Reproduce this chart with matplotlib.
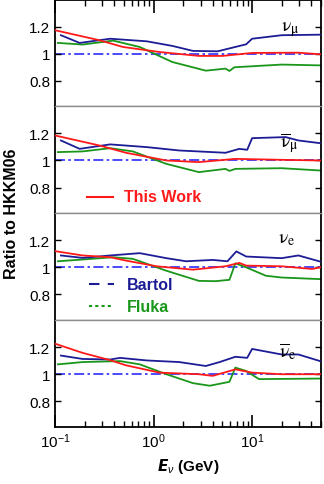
import numpy as np
import matplotlib
matplotlib.use("Agg")
import matplotlib.pyplot as plt
from matplotlib.ticker import LogLocator, NullFormatter, FixedLocator

plt.rcParams["font.family"] = ["Liberation Sans", "DejaVu Sans"]
plt.rcParams["mathtext.fontset"] = "custom"
plt.rcParams["mathtext.rm"] = "Liberation Sans"
plt.rcParams["mathtext.it"] = "Liberation Sans:italic"
plt.rcParams["mathtext.bf"] = "Liberation Sans:bold"

# ratio to HKKM06, x given as log10(E/GeV)
# panel 1: nu_mu
mu_bartol_x = [-0.94, -0.75, -0.44, -0.07, 0.19, 0.40, 0.65, 0.94, 1.00, 1.30, 1.69]
mu_bartol_y = [1.136, 1.079, 1.110, 1.091, 1.057, 1.020, 1.017, 1.069, 1.110, 1.136, 1.140]
mu_this_x = [-1.0, -0.55, -0.31, 0.06, 0.46, 0.70, 1.00, 1.47, 1.69]
mu_this_y = [1.173, 1.099, 1.049, 1.012, 0.983, 0.983, 1.005, 1.007, 0.995]
mu_fluka_x = [-0.97, -0.72, -0.41, -0.14, 0.19, 0.53, 0.73, 0.77, 0.82, 1.30, 1.69]
mu_fluka_y = [1.079, 1.067, 1.096, 1.049, 0.938, 0.874, 0.889, 0.872, 0.899, 0.919, 0.913]

# panel 2: anti nu_mu
mub_bartol_x = [-0.94, -0.75, -0.44, -0.07, 0.26, 0.73, 0.87, 0.95, 1.00, 1.34, 1.47, 1.69]
mub_bartol_y = [1.148, 1.086, 1.119, 1.099, 1.074, 1.057, 1.086, 1.079, 1.165, 1.173, 1.148, 1.128]
mub_this_x = [-1.0, -0.55, -0.28, 0.13, 0.46, 0.83, 1.30, 1.69]
mub_this_y = [1.185, 1.111, 1.057, 1.000, 0.988, 1.012, 1.005, 1.000]
mub_fluka_x = [-0.97, -0.72, -0.44, -0.21, 0.13, 0.46, 0.73, 0.77, 0.83, 1.30, 1.69]
mub_fluka_y = [1.062, 1.067, 1.091, 1.067, 0.975, 0.914, 0.938, 0.923, 0.938, 0.943, 0.926]

# panel 3: nu_e
e_bartol_x = [-0.94, -0.72, -0.44, -0.14, 0.13, 0.33, 0.60, 0.75, 0.84, 0.94, 1.30, 1.47, 1.69]
e_bartol_y = [1.088, 1.070, 1.088, 1.105, 1.068, 1.045, 1.055, 1.045, 1.118, 1.080, 1.068, 1.088, 1.043]
e_this_x = [-1.0, -0.72, -0.44, -0.28, 0.03, 0.40, 0.73, 0.87, 0.94, 1.30, 1.61, 1.69]
e_this_y = [1.120, 1.088, 1.075, 1.050, 1.008, 0.983, 1.008, 1.033, 1.013, 1.008, 0.988, 1.000]
e_fluka_x = [-0.97, -0.72, -0.41, -0.21, 0.13, 0.46, 0.63, 0.77, 0.83, 0.94, 1.14, 1.30, 1.69]
e_fluka_y = [1.045, 1.058, 1.075, 1.063, 0.975, 0.900, 0.898, 0.908, 1.030, 1.000, 0.938, 0.925, 0.913]

# panel 4: anti nu_e
eb_bartol_x = [-0.94, -0.72, -0.44, -0.34, -0.07, 0.26, 0.53, 0.67, 0.83, 0.95, 1.00, 1.30, 1.47, 1.69]
eb_bartol_y = [1.138, 1.113, 1.109, 1.121, 1.102, 1.090, 1.061, 1.090, 1.129, 1.121, 1.187, 1.146, 1.146, 1.097]
eb_this_x = [-1.0, -0.72, -0.44, -0.28, 0.06, 0.46, 0.60, 0.83, 1.00, 1.30, 1.69]
eb_this_y = [1.226, 1.158, 1.104, 1.066, 1.012, 1.000, 0.988, 1.036, 1.012, 1.000, 1.000]
eb_fluka_x = [-0.97, -0.72, -0.34, -0.14, 0.13, 0.40, 0.57, 0.77, 0.83, 0.94, 1.07, 1.69]
eb_fluka_y = [1.073, 1.090, 1.097, 1.073, 1.000, 0.934, 0.915, 0.944, 1.049, 1.024, 0.964, 0.968]

panels = [
    (r"$\mathrm{\nu}_{\mathrm{\mu}}$", mu_bartol_x, mu_bartol_y, mu_this_x, mu_this_y, mu_fluka_x, mu_fluka_y),
    (r"$\overline{\mathrm{\nu}}_{\mathrm{\mu}}$", mub_bartol_x, mub_bartol_y, mub_this_x, mub_this_y, mub_fluka_x, mub_fluka_y),
    (r"$\mathrm{\nu}_{\mathrm{e}}$", e_bartol_x, e_bartol_y, e_this_x, e_this_y, e_fluka_x, e_fluka_y),
    (r"$\overline{\mathrm{\nu}}_{\mathrm{e}}$", eb_bartol_x, eb_bartol_y, eb_this_x, eb_this_y, eb_fluka_x, eb_fluka_y),
]
label_pos = [(0.885, 0.73), (0.88, 0.665), (0.87, 0.76), (0.875, 0.71)]

C_BARTOL = "#1c1c96"
C_THIS = "#ff1a1a"
C_FLUKA = "#1a961a"
C_REF = "#2b2bff"

fig = plt.figure(figsize=(3.24, 4.85), dpi=100)
left, right = 55 / 324, 321 / 324
bot, top = 57 / 485, 484.5 / 485
h = (top - bot) / 4

axes = []
for i, (lab, bx, by, tx, ty, fx, fy) in enumerate(panels):
    ax = fig.add_axes([left, top - (i + 1) * h, right - left, h])
    axes.append(ax)
    ax.set_xscale("log")
    ax.set_xlim(0.1, 50)
    ax.set_ylim(0.61, 1.40)
    ax.axhline(1.0, color=C_REF, lw=1.2, dashes=(6, 2, 1.5, 2), zorder=1)
    ax.plot(10 ** np.array(bx), by, color=C_BARTOL, lw=1.3, zorder=3)
    ax.plot(10 ** np.array(tx), ty, color=C_THIS, lw=1.3, zorder=4)
    ax.plot(10 ** np.array(fx), fy, color=C_FLUKA, lw=1.3, zorder=2)

    ax.yaxis.set_major_locator(FixedLocator([0.8, 1.0, 1.2]))
    ax.set_yticklabels(["0.8", "1", "1.2"])
    ax.tick_params(axis="y", which="both", direction="in", left=True, right=True,
                   length=4, width=1, labelsize=11)
    ax.xaxis.set_major_locator(LogLocator(base=10))
    ax.xaxis.set_minor_locator(LogLocator(base=10, subs=np.arange(2, 10)))
    ax.xaxis.set_minor_formatter(NullFormatter())
    ax.tick_params(axis="x", which="major", direction="in", length=9, width=1.2,
                   top=(i == 0), bottom=(i == 3), labelbottom=(i == 3), labelsize=11)
    ax.tick_params(axis="x", which="minor", direction="in", length=4.5, width=1,
                   top=(i == 0), bottom=(i == 3))

    for s in ("left", "right"):
        ax.spines[s].set_linewidth(1.3)
    ax.spines["top"].set_linewidth(1.3 if i == 0 else 1.0)
    ax.spines["bottom"].set_linewidth(1.3 if i == 3 else 1.0)
    if i > 0:
        ax.spines["top"].set_color("0.55")
    if i < 3:
        ax.spines["bottom"].set_color("0.55")

    ax.text(label_pos[i][0], label_pos[i][1], lab, transform=ax.transAxes,
            fontsize=14, ha="center", va="center", math_fontfamily="stix", zorder=5)

axes[3].set_xlabel(r"$\mathbfit{E}_{\nu}$ (GeV)", fontsize=11, fontweight="bold")
fig.text(0.035, (top + bot) / 2, "Ratio to HKKM06", rotation=90, fontsize=11.5,
         fontweight="bold", ha="center", va="center")

# legend entries drawn by hand as in the original
axes[1].plot([0.21, 0.385], [0.731, 0.731], color=C_THIS, lw=1.5)
axes[1].text(0.5, 0.731, "This Work", color=C_THIS, fontsize=11.5, fontweight="bold", va="center")
axes[2].plot([0.22, 0.40], [0.876, 0.876], color=C_BARTOL, lw=1.5, dashes=(5, 4))
axes[2].text(0.53, 0.876, "Bartol", color=C_BARTOL, fontsize=11.5, fontweight="bold", va="center")
axes[2].plot([0.22, 0.40], [0.713, 0.713], color=C_FLUKA, lw=1.5, dashes=(1.5, 1.5))
axes[2].text(0.53, 0.713, "Fluka", color=C_FLUKA, fontsize=11.5, fontweight="bold", va="center")

fig.savefig("out.png", dpi=100)
